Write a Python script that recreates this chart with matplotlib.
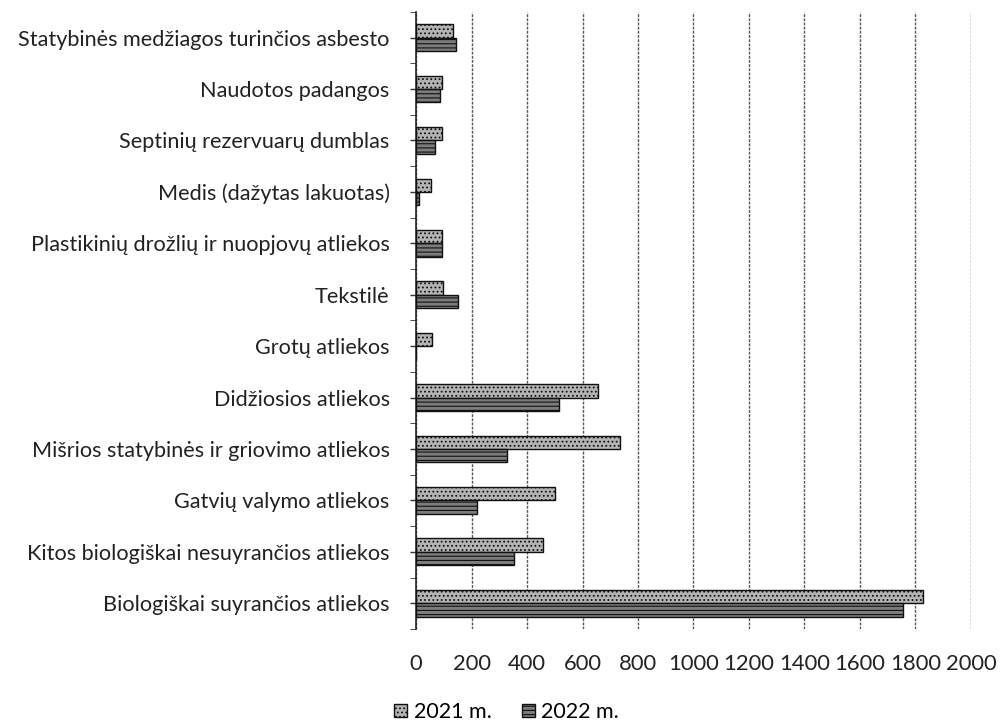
import matplotlib
matplotlib.use("Agg")
import matplotlib.pyplot as plt
import numpy as np

categories = [
    "Statybinės medžiagos turinčios asbesto",
    "Naudotos padangos",
    "Septinių rezervuarų dumblas",
    "Medis (dažytas lakuotas)",
    "Plastikinių drožlių ir nuopjovų atliekos",
    "Tekstilė",
    "Grotų atliekos",
    "Didžiosios atliekos",
    "Mišrios statybinės ir griovimo atliekos",
    "Gatvių valymo atliekos",
    "Kitos biologiškai nesuyrančios atliekos",
    "Biologiškai suyrančios atliekos",
]
values_2021 = [133, 92, 94, 54, 94, 97, 58, 656, 735, 501, 458, 1827]
values_2022 = [144, 86, 68, 10, 92, 151, 0, 515, 328, 220, 353, 1755]
series_labels = ["2021 m.", "2022 m."]
xticks = list(range(0, 2001, 200))

plt.rcParams['font.family'] = ['Lato', 'DejaVu Sans']
plt.rcParams['hatch.color'] = '#555555'
plt.rcParams['hatch.linewidth'] = 0.8

fig = plt.figure(figsize=(10.03, 7.26), dpi=100)
ax = fig.add_axes([0.4148, 0.1336, 0.5532, 0.85])

n = len(categories)
y = np.arange(n)[::-1]  # top category first
h = 0.26
ax.barh(y + h / 2, values_2021, height=h, color='#b4b4b4', edgecolor='#111111',
        linewidth=1.0, hatch='....', label=series_labels[0], zorder=3)
ax.barh(y - h / 2, values_2022, height=h, color='#7c7c7c', edgecolor='#111111',
        linewidth=1.0, hatch='----', label=series_labels[1], zorder=3)

ax.set_xlim(0, 2000)
ax.set_ylim(-0.5, n - 0.5)
ax.set_xticks(xticks)
ax.set_xticklabels([str(t) for t in xticks], fontsize=15.8, color='#222222')
ax.set_yticks(y)
ax.set_yticklabels(categories, fontsize=15.6, color='#222222')
ax.tick_params(axis='x', length=0, pad=18)
ax.tick_params(axis='y', length=4, width=1, color='#333333', pad=15)
ax.set_yticks(np.arange(-0.5, n, 1), minor=True)
ax.tick_params(axis='y', which='minor', length=4, color='#333333')

ax.xaxis.grid(True, color='#555555', linestyle=(0, (2, 1)), linewidth=1.0, zorder=0)
ax.set_axisbelow(True)
for s in ['top', 'right', 'bottom']:
    ax.spines[s].set_visible(False)
ax.spines['left'].set_color('#222222')
ax.spines['left'].set_linewidth(1.2)
ax.spines['left'].set_linestyle((0, (3, 1)))

handles, labels = ax.get_legend_handles_labels()
fig.legend(handles, labels, loc='center', bbox_to_anchor=(0.505, 0.019),
           ncol=2, frameon=False, fontsize=15.5, handlelength=0.6, handleheight=0.6,
           columnspacing=1.4, handletextpad=0.3)

fig.savefig("out.png", dpi=100)
